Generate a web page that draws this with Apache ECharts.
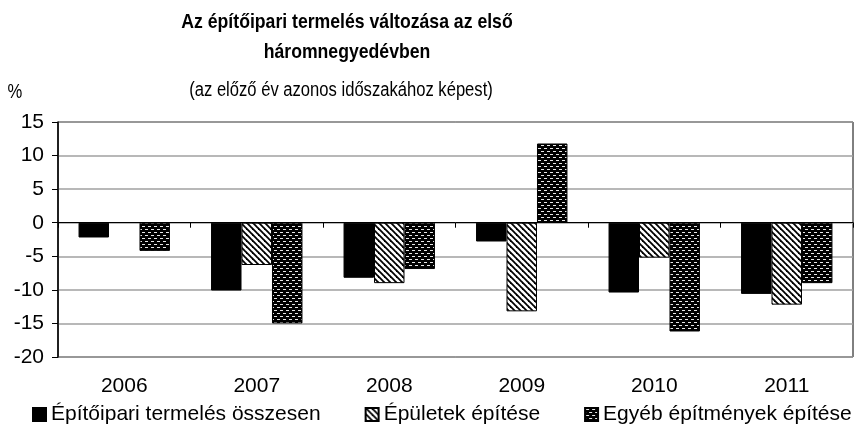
<!DOCTYPE html>
<html>
<head>
<meta charset="utf-8">
<script src="https://cdn.jsdelivr.net/npm/echarts@6/dist/echarts.min.js"></script>
<style>
  html, body { margin: 0; padding: 0; background: #fff; }
  #chart { width: 857px; height: 434px; }
</style>
</head>
<body>
<div id="chart"></div>
<script>
const years = ["2006", "2007", "2008", "2009", "2010", "2011"];
const totalValues = [-2.2, -10.1, -8.2, -2.8, -10.4, -10.6];
const buildingValues = [null, -6.3, -9.0, -13.2, -5.2, -12.2];
const otherValues = [-4.2, -15.0, -6.9, 11.8, -16.2, -9.0];
const seriesNames = ["Építőipari termelés összesen", "Épületek építése", "Egyéb építmények építése"];

const FONT = "Liberation Sans, Arial, sans-serif";

function stripePattern() {
  const c = document.createElement("canvas");
  c.width = 6;
  c.height = 6;
  const ctx = c.getContext("2d");
  ctx.fillStyle = "#ffffff";
  ctx.fillRect(0, 0, 6, 6);
  ctx.strokeStyle = "#000000";
  ctx.lineWidth = 1.8;
  [-6, 0, 6].forEach(k => {
    ctx.beginPath();
    ctx.moveTo(-1, -1 + k);
    ctx.lineTo(7, 7 + k);
    ctx.stroke();
  });
  return c;
}

function dotPattern() {
  const c = document.createElement("canvas");
  c.width = 6;
  c.height = 6;
  const ctx = c.getContext("2d");
  ctx.fillStyle = "#000000";
  ctx.fillRect(0, 0, 6, 6);
  ctx.fillStyle = "#e8e8e8";
  ctx.fillRect(1, 1, 3, 1);
  ctx.fillRect(4, 4, 3, 1);
  ctx.fillRect(-2, 4, 3, 1);
  return c;
}

// condensed-looking text like the original chart export
function headText(text, x, y, size, weight, scaleX) {
  return {
    type: "text",
    x,
    y,
    scaleX,
    silent: true,
    style: {
      text,
      font: `${weight} ${size}px Liberation Sans`,
      textAlign: "center",
      textVerticalAlign: "middle",
      fill: "#000"
    }
  };
}

const chart = echarts.init(document.getElementById("chart"));

const barStyle = color => ({
  color,
  borderColor: "#000000",
  borderWidth: 1
});

chart.setOption({
  animation: false,
  textStyle: { fontFamily: FONT, color: "#000" },
  graphic: [
    headText("Az építőipari termelés változása az első", 347, 22, 21, "bold", 0.84),
    headText("háromnegyedévben", 347, 52, 21, "bold", 0.84),
    headText("(az előző év azonos időszakához képest)", 341, 90, 20, "normal", 0.83),
    headText("%", 15, 92, 20, "normal", 0.83)
  ],
  grid: {
    left: 58,
    right: 4,
    top: 122,
    bottom: 77,
    show: true,
    borderColor: "#000",
    borderWidth: 1
  },
  legend: {
    bottom: 9,
    left: 32,
    width: 830,
    padding: 0,
    itemWidth: 13,
    itemHeight: 13,
    itemGap: 44,
    icon: "rect",
    textStyle: { fontFamily: FONT, fontSize: 21, color: "#000" },
    data: seriesNames
  },
  xAxis: [
    {
      type: "category",
      data: years,
      axisLine: { onZero: true, lineStyle: { color: "#000", width: 1 } },
      axisTick: { show: true, length: 5, interval: 0, lineStyle: { color: "#000" } },
      axisLabel: { show: false },
      splitLine: { show: false }
    },
    {
      type: "category",
      data: years,
      position: "bottom",
      axisLine: { show: false },
      axisTick: { show: false },
      axisLabel: { fontFamily: FONT, fontSize: 21, color: "#000", margin: 19 }
    }
  ],
  yAxis: {
    type: "value",
    min: -20,
    max: 15,
    interval: 5,
    axisLine: { show: true, lineStyle: { color: "#000", width: 1.5 } },
    axisTick: { show: true, length: 6, lineStyle: { color: "#000" } },
    axisLabel: { fontFamily: FONT, fontSize: 21, color: "#000", margin: 14 },
    splitLine: { lineStyle: { color: "#a0a0a0", width: 1.5 } }
  },
  series: [
    {
      name: seriesNames[0],
      type: "bar",
      data: totalValues,
      barGap: "0%",
      barCategoryGap: "31%",
      itemStyle: barStyle("#000000")
    },
    {
      name: seriesNames[1],
      type: "bar",
      data: buildingValues,
      itemStyle: barStyle({ image: stripePattern(), repeat: "repeat" })
    },
    {
      name: seriesNames[2],
      type: "bar",
      data: otherValues,
      itemStyle: barStyle({ image: dotPattern(), repeat: "repeat" })
    }
  ]
});
</script>
</body>
</html>
